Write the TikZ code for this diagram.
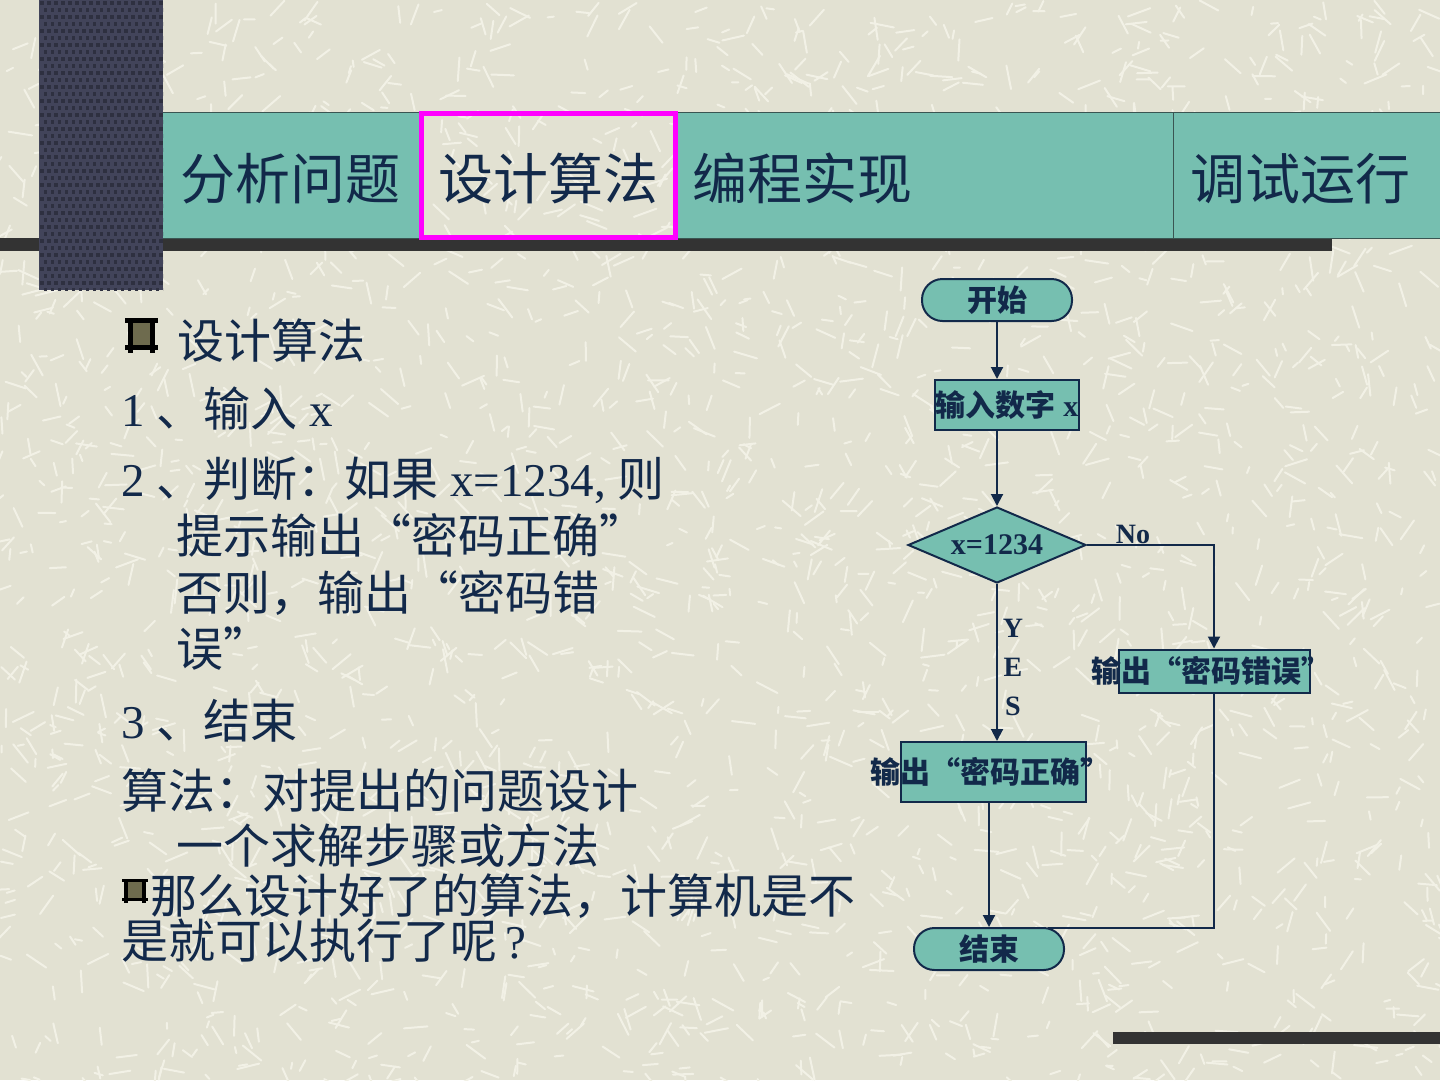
\documentclass[tikz,border=0pt]{standalone}
\usepackage{fontspec}
\setmainfont{Liberation Serif}
\newfontfamily\cjk{Noto Sans CJK SC}
\usetikzlibrary{shapes.geometric,arrows.meta}
\definecolor{bgc}{HTML}{E2E1D2}
\definecolor{texc}{HTML}{F2F1E6}
\definecolor{hdteal}{HTML}{76BFB0}
\definecolor{inkc}{HTML}{12294A}
\definecolor{barc}{HTML}{333333}
\definecolor{sidec}{HTML}{42445A}
\definecolor{sidedot}{HTML}{2E3040}
\definecolor{bulc}{HTML}{6E6B4E}
\definecolor{edgec}{HTML}{3A5552}
\definecolor{hlc}{HTML}{FF00FF}
% #1 x, #2 y, #3 w, #4 h
\newcommand{\hashbul}[4]{%
  \fill[bulc] (#1+0.2*#3,#2+0.12*#4) rectangle (#1+0.8*#3,#2+0.85*#4);
  \fill[black] (#1,#2) rectangle (#1+#3,#2+0.13*#4);
  \fill[black] (#1,#2+0.78*#4) rectangle (#1+#3,#2+0.91*#4);
  \fill[black] (#1+0.09*#3,#2) rectangle (#1+0.23*#3,#2+#4);
  \fill[black] (#1+0.77*#3,#2) rectangle (#1+0.91*#3,#2+#4);
}
\tikzset{
  hdtext/.style={anchor=base, inner sep=0pt, text=inkc, font=\fontsize{55}{55}\selectfont\cjk},
  body/.style={anchor=base west, inner sep=0pt, text=inkc, font=\fontsize{47}{47}\selectfont\cjk},
  fbox/.style={draw=inkc, fill=hdteal, line width=2pt, inner sep=0pt, text=inkc, font=\fontsize{30}{30}\selectfont\cjk\bfseries},
  term/.style={fbox, rounded corners=20.5pt},
  flow/.style={draw=inkc, line width=2pt, -{Triangle[length=12pt,width=12pt]}},
  link/.style={draw=inkc, line width=2pt},
  lbl/.style={text=inkc, inner sep=0pt, font=\fontsize{28}{28}\selectfont\bfseries},
  texture/.style={draw=texc, line width=2pt, line cap=round},
}
\begin{document}
\begin{tikzpicture}[x=1pt,y=-1pt]
\useasboundingbox (0,0) rectangle (1440,1080);
\fill[bgc] (0,0) rectangle (1440,1080);
\pgfmathsetseed{42}
\foreach \i in {1,...,2600}{
  \pgfmathsetmacro\px{1440*rnd}
  \pgfmathsetmacro\py{1080*rnd}
  \pgfmathsetmacro\ang{180*rnd}
  \pgfmathsetmacro\len{6+18*rnd}
  \draw[texture] (\px,\py) -- ++(\ang:\len);
}
% header
\fill[barc] (0,238) rectangle (1332,251);
\fill[hdteal] (163,112) rectangle (421,238);
\fill[hdteal] (675,112) rectangle (1440,238);
\draw[edgec, line width=1pt] (163,112) -- (1440,112);
\draw[edgec, line width=1pt] (163,238) -- (1440,238);
\draw[edgec, line width=1pt] (1173,112) -- (1173,238);
\fill[sidec] (39,0) rectangle (163,290);
\begin{scope}
\clip (39,0) rectangle (163,290);
\foreach \gx in {0,...,17}{
  \foreach \gy in {0,...,41}{
    \pgfmathsetmacro\dx{40+\gx*7+mod(\gy,2)*3.5}
    \pgfmathsetmacro\dy{1+\gy*7}
    \fill[sidedot] (\dx,\dy) rectangle ++(3.5,3.5);
  }
}
\end{scope}
\draw[hlc, line width=5pt] (421,113) rectangle (675,237);
\node[hdtext] (h1) at (290,199) {分析问题};
\node[hdtext] (h2) at (548,199) {设计算法};
\node[hdtext] (h3) at (802,199) {编程实现};
\node[hdtext] (h4) at (1300,199) {调试运行};
% body text
\hashbul{125}{318}{33}{35}
\node[body] (t1) at (177,358) {设计算法};
\node[body] (t2) at (121,426) {{\rmfamily 1 }、输入{\rmfamily\ x}};
\node[body] (t3) at (121,496) {{\rmfamily 2 }、判断：如果{\rmfamily\ x=1234, }则};
\node[body] (t4) at (176,553) {提示输出“密码正确”};
\node[body] (t5) at (176,610) {否则，输出“密码错};
\node[body] (t6) at (176,666) {误”};
\node[body] (t7) at (121,738) {{\rmfamily 3 }、结束};
\node[body] (t8) at (121,808) {算法：对提出的问题设计};
\node[body] (t9) at (176,863) {一个求解步骤或方法};
\hashbul{122}{879}{26}{24}
\node[body] (t10) at (150,913) {那么设计好了的算法，计算机是不};
\node[body] (t11) at (121,958) {是就可以执行了呢{\rmfamily\,?}};
% flowchart
\node[term, minimum width=150pt, minimum height=42pt] (start) at (997,300) {开始};
\node[fbox, minimum width=144pt, minimum height=50pt] (inp) at (1007,405) {\makebox[0pt]{输入数字{\rmfamily\ x}}};
\node[fbox, diamond, aspect=2.34, minimum width=178pt, minimum height=76pt] (dec) at (997,545) {\rmfamily x=1234};
\node[fbox, minimum width=191pt, minimum height=43pt] (err) at (1214,671) {\makebox[0pt]{\hspace*{-6pt}输出“密码错误”}};
\node[fbox, minimum width=185pt, minimum height=60pt] (ok) at (993,772) {\makebox[0pt]{\hspace*{-6pt}输出“密码正确”}};
\node[term, minimum width=150pt, minimum height=42pt] (stop) at (989,949) {结束};
\coordinate (join) at (1048,928);
\draw[flow] (start) -- (start.south |- inp.north);
\draw[flow] (start.south |- inp.south) -- (dec.north);
\draw[flow] (dec.east) -| (err.north);
\draw[flow] (dec.south) -- (dec.south |- ok.north);
\draw[flow] (stop.north |- ok.south) -- (stop.north);
\draw[link] (err.south) |- (join);
\node[lbl] (no) at (1133,534) {No};
\node[lbl] (ly) at (1013,628) {Y};
\node[lbl] (le) at (1013,667) {E};
\node[lbl] (ls) at (1013,706) {S};
% bottom bar
\fill[barc] (1113,1032) rectangle (1440,1044);
\end{tikzpicture}
\end{document}
